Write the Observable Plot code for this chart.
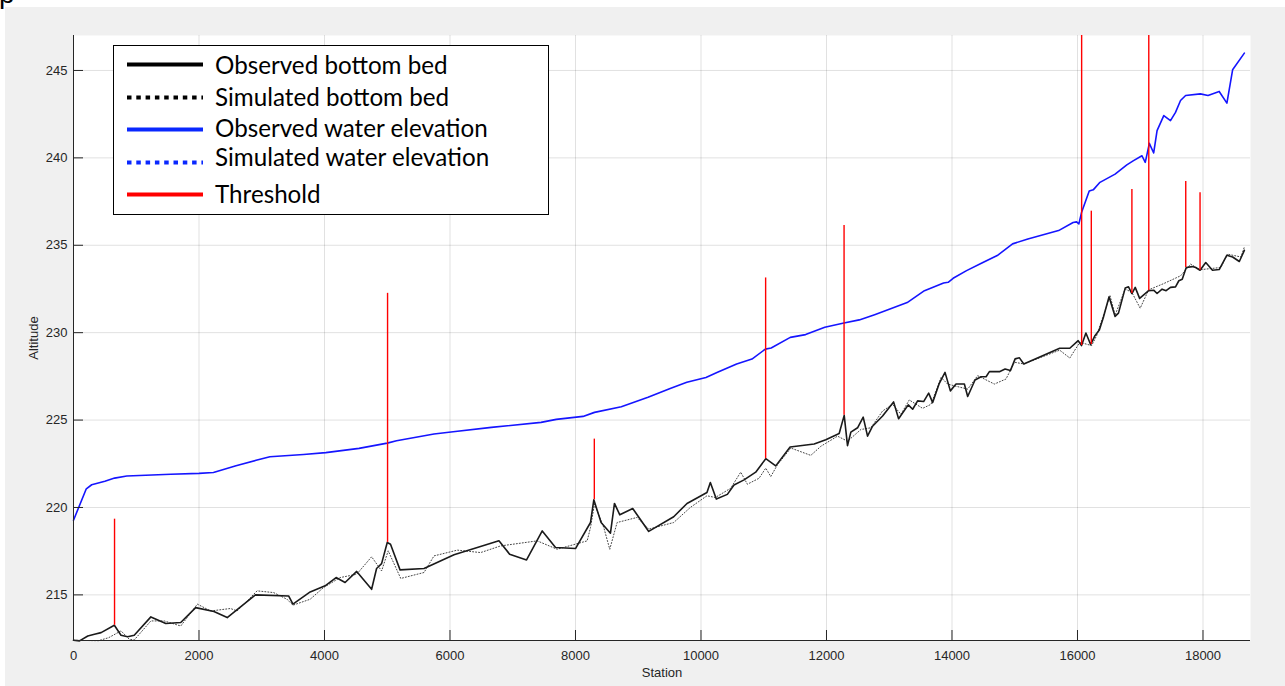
<!DOCTYPE html>
<html>
<head>
<meta charset="utf-8">
<script src="https://cdn.jsdelivr.net/npm/d3@7"></script>
<script src="https://cdn.jsdelivr.net/npm/@observablehq/plot@0.6"></script>
<style>
  html, body { margin: 0; padding: 0; background: #ffffff; }
  #wrap { position: relative; width: 1285px; height: 686px; overflow: hidden; }
  #chart { position: absolute; left: 5px; top: 7px; }
  #corner { position: absolute; left: -2px; top: 0; width: 16px; height: 14px; overflow: hidden; }
  #corner span { position: absolute; left: 1px; top: -22px; font: 28px "Liberation Sans", Arial, sans-serif; color: #000; }
  #legend { position: absolute; left: 113px; top: 45px; width: 434px; height: 168px;
            border: 1.5px solid #000; background: #fff; }
</style>
</head>
<body>
<div id="wrap">
  <div id="corner"><span>p</span></div>
  <div id="chart"></div>
  <div id="legend"></div>
</div>
<script>
// Axis ticks
const xTicks = [0, 2000, 4000, 6000, 8000, 10000, 12000, 14000, 16000, 18000];
const yTicks = [215, 220, 225, 230, 235, 240, 245];

// Observed bottom bed: [station, altitude]
const observedBed = [
  [0,212.4],[96,212.37],[228,212.65],[334,212.75],[440,212.84],[651,213.26],[757,212.69],[863,212.6],
  [968,212.69],[1233,213.74],[1471,213.36],[1709,213.42],[1947,214.27],[2238,214.05],[2450,213.7],
  [2899,215.0],[3428,214.94],[3497,214.47],[3772,215.17],[4010,215.52],[4185,215.99],[4328,215.71],
  [4513,216.34],[4751,215.32],[4830,216.51],[4910,216.79],[5000,218.0],[5052,217.9],[5204,216.43],
  [5586,216.51],[6064,217.29],[6780,218.09],[6950,217.33],[7220,217.0],[7470,218.66],[7682,217.71],
  [8000,217.65],[8239,219.14],[8292,220.44],[8408,219.14],[8557,218.53],[8621,220.23],[8706,219.58],
  [8912,219.94],[9167,218.63],[9565,219.47],[9777,220.23],[10095,220.86],[10149,221.43],[10244,220.48],
  [10420,220.75],[10526,221.29],[10686,221.58],[10872,222.02],[11032,222.79],[11191,222.38],
  [11420,223.46],[11803,223.63],[11989,223.88],[12202,224.23],[12282,225.27],[12335,223.54],
  [12388,224.31],[12495,224.56],[12585,225.17],[12654,224.08],[12734,224.65],[12894,225.23],
  [13069,226.04],[13149,225.08],[13303,225.87],[13373,225.62],[13452,226.1],[13548,226.06],
  [13628,226.54],[13692,226.0],[13798,227.1],[13889,227.73],[13974,226.67],[14064,227.06],
  [14197,227.06],[14250,226.35],[14367,227.29],[14463,227.48],[14543,227.48],[14596,227.77],
  [14756,227.77],[14846,227.92],[14931,227.83],[15006,228.5],[15075,228.56],[15144,228.21],
  [15716,229.11],[15877,229.11],[16011,229.54],[16064,229.26],[16134,229.98],[16209,229.32],
  [16278,229.83],[16348,230.15],[16412,230.87],[16503,232.05],[16599,230.93],[16653,231.12],
  [16760,232.55],[16813,232.62],[16867,232.24],[16920,232.59],[16990,231.96],[17134,232.4],
  [17214,232.43],[17268,232.24],[17348,232.49],[17412,232.4],[17482,232.59],[17562,232.62],
  [17615,232.97],[17669,233.06],[17733,233.73],[17830,233.78],[17883,233.73],[17953,233.57],
  [18044,234.01],[18151,233.57],[18258,233.61],[18381,234.43],[18472,234.33],[18579,234.07],
  [18659,234.71]
];

// Simulated bottom bed: [station, altitude]
const simulatedBed = [
  [0,212.4],[400,212.38],[560,212.55],[757,212.94],[889,212.46],[968,212.42],[1233,213.51],
  [1445,213.51],[1709,213.22],[1974,214.47],[2185,214.08],[2502,214.22],[2608,214.08],[2926,215.23],
  [3190,215.13],[3402,214.75],[3497,214.41],[3772,214.75],[3984,215.42],[4249,215.99],[4513,216.18],
  [4751,217.18],[4910,216.37],[5015,217.52],[5215,215.94],[5586,216.28],[5745,217.23],[6117,217.56],
  [6488,217.42],[6806,217.8],[7390,218.09],[7708,217.61],[8186,218.09],[8239,218.85],[8302,220.19],
  [8451,218.85],[8546,217.61],[8663,219.14],[8981,219.43],[9167,218.76],[9565,219.14],[9830,220.0],
  [10095,220.67],[10228,220.57],[10473,221.1],[10633,222.02],[10739,221.33],[10925,221.67],
  [11032,222.25],[11112,221.77],[11218,222.44],[11431,223.4],[11750,222.98],[11910,223.5],
  [12176,224.08],[12335,223.79],[12548,224.46],[12708,224.56],[12894,225.52],[13053,225.9],
  [13186,225.33],[13319,226.15],[13532,225.67],[13665,225.9],[13825,227.44],[13931,227.06],
  [14037,226.96],[14250,226.77],[14409,227.54],[14675,227.06],[14861,227.35],[14994,228.31],
  [15144,228.21],[15716,229.0],[15877,228.55],[16037,229.45],[16225,229.26],[16305,229.83],
  [16519,232.11],[16599,231.0],[16760,232.5],[16867,232.3],[16999,231.4],[17134,232.45],
  [17375,232.81],[17642,233.25],[17803,233.92],[17953,233.6],[18284,233.73],[18391,234.49],
  [18605,234.33],[18659,234.9]
];

// Observed water elevation: [station, altitude]
const waterElevation = [
  [0,219.27],[204,221.07],[290,221.3],[500,221.5],[655,221.68],[850,221.8],[1550,221.9],[2000,221.95],
  [2230,222.0],[2590,222.39],[2926,222.71],[3130,222.9],[3666,223.03],[4020,223.14],[4550,223.38],
  [5000,223.68],[5148,223.82],[5745,224.2],[6050,224.33],[6659,224.58],[7451,224.87],[7694,225.04],
  [8120,225.21],[8303,225.44],[8730,225.76],[9156,226.3],[9509,226.81],[9774,227.16],[10079,227.44],
  [10263,227.73],[10568,228.21],[10812,228.49],[11026,229.06],[11118,229.12],[11423,229.73],
  [11667,229.89],[11973,230.31],[12278,230.55],[12522,230.73],[12767,231.03],[13011,231.35],
  [13286,231.72],[13561,232.4],[13866,232.84],[13939,232.88],[14018,233.11],[14232,233.55],
  [14476,233.99],[14721,234.41],[14965,235.08],[15209,235.36],[15698,235.84],[15930,236.3],
  [15985,236.34],[16022,236.22],[16064,236.87],[16187,238.1],[16251,238.17],[16358,238.6],
  [16599,239.07],[16786,239.6],[16893,239.84],[17027,240.12],[17080,239.74],[17145,240.83],
  [17214,240.28],[17268,241.56],[17375,242.42],[17482,242.13],[17562,242.6],[17642,243.28],
  [17723,243.57],[17958,243.66],[18080,243.57],[18258,243.8],[18381,243.13],[18472,245.04],
  [18659,245.99]
];

// Thresholds: station, bed altitude at the threshold, crest altitude
const thresholdStation = [654, 5005, 8300, 11030, 12280, 16066, 16220, 16867, 17136, 17725, 17953];
const thresholdBase    = [213.26, 218.0, 220.44, 222.79, 225.27, 229.26, 229.32, 232.24, 232.4, 233.73, 233.57];
const thresholdTop     = [219.33, 232.25, 223.91, 233.13, 236.13, 249.0, 236.95, 238.19, 249.0, 238.65, 238.0];

const thresholds = thresholdStation.map((s, i) => ({station: s, base: thresholdBase[i], top: thresholdTop[i]}));

const xDomain = [0, 18757];
const yDomain = [212.39, 247.0];
const axisColor = "#262626";

const chart = Plot.plot({
  width: 1280,
  height: 679,
  marginLeft: 68,
  marginRight: 35,
  marginTop: 28,
  marginBottom: 46,
  style: {background: "#f0f0f0", fontFamily: "'Liberation Sans', Arial, sans-serif", fontSize: "13px", color: axisColor},
  x: {domain: xDomain},
  y: {domain: yDomain},
  marks: [
    Plot.frame({fill: "#ffffff", stroke: null}),
    Plot.ruleX(xTicks, {stroke: "#000", strokeOpacity: 0.12}),
    Plot.ruleY(yTicks, {stroke: "#000", strokeOpacity: 0.12}),
    Plot.line(simulatedBed, {x: d => d[0], y: d => d[1], stroke: "#444444", strokeWidth: 1, strokeDasharray: "1,2"}),
    Plot.line(observedBed, {x: d => d[0], y: d => d[1], stroke: "#1a1a1a", strokeWidth: 1.6}),
    Plot.line(waterElevation, {x: d => d[0], y: d => d[1], stroke: "#1515ff", strokeWidth: 1.6}),
    Plot.ruleX(thresholds, {x: "station", y1: "base", y2: "top", stroke: "#ff0000", strokeWidth: 1.4, clip: true}),
    Plot.ruleX([xDomain[0]], {stroke: axisColor}),
    Plot.ruleY([yDomain[0]], {stroke: axisColor}),
    Plot.axisX(xTicks, {tickSize: 10, dy: -10, fill: "none", stroke: axisColor}),
    Plot.axisY(yTicks, {tickSize: 10, dx: 10, fill: "none", stroke: axisColor}),
    Plot.axisX(xTicks, {tickSize: 0, tickPadding: 10, tickFormat: d => String(d), label: "Station", labelAnchor: "center", labelOffset: 36, labelArrow: "none"}),
    Plot.axisY(yTicks, {tickSize: 0, tickPadding: 6, tickFormat: d => String(d), label: "Altitude", labelAnchor: "center", labelOffset: 45, labelArrow: "none"})
  ]
});
document.getElementById("chart").append(chart);

// Legend
const legendLabels = ["Observed bottom bed", "Simulated bottom bed", "Observed water elevation", "Simulated water elevation", "Threshold"];
const legendColors = ["#000000", "#000000", "#0a28ff", "#0a28ff", "#ff0000"];
const legendDashed = [false, true, false, true, false];
const legendLineY = [18.5, 51.5, 83.5, 116.5, 148.5];
const legendTextY = [18.5, 50.5, 81.5, 110.5, 147.5];

const ns = "http://www.w3.org/2000/svg";
const lsvg = document.createElementNS(ns, "svg");
lsvg.setAttribute("width", 434);
lsvg.setAttribute("height", 168);
legendLabels.forEach((label, i) => {
  const ln = document.createElementNS(ns, "line");
  ln.setAttribute("x1", 13); ln.setAttribute("x2", 89);
  ln.setAttribute("y1", legendLineY[i]); ln.setAttribute("y2", legendLineY[i]);
  ln.setAttribute("stroke", legendColors[i]);
  ln.setAttribute("stroke-width", 4);
  if (legendDashed[i]) ln.setAttribute("stroke-dasharray", "4.5,4.8");
  lsvg.append(ln);
  const tx = document.createElementNS(ns, "text");
  tx.setAttribute("x", 101);
  tx.setAttribute("y", legendTextY[i]);
  tx.setAttribute("dominant-baseline", "central");
  tx.setAttribute("font-family", "Lato, 'Open Sans', sans-serif");
  tx.setAttribute("font-size", 24.2);
  tx.setAttribute("fill", "#000");
  tx.textContent = label;
  lsvg.append(tx);
});
document.getElementById("legend").append(lsvg);
</script>
</body>
</html>
